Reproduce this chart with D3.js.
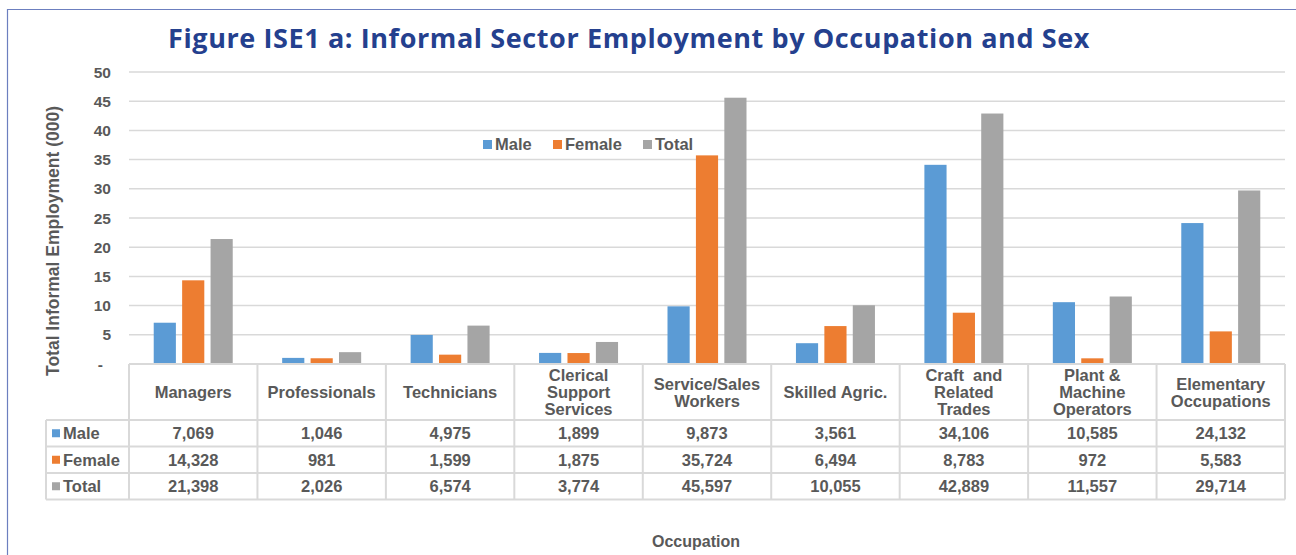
<!DOCTYPE html>
<html>
<head>
<meta charset="utf-8">
<script src="https://cdn.jsdelivr.net/npm/d3@7"></script>
<style>
  body { margin: 0; background: #fff; }
  svg text { font-family: "Liberation Sans", Arial, sans-serif; font-weight: bold; fill: #595959; white-space: pre; }
</style>
</head>
<body>
<script>
// data
var occupations = ["Managers", "Professionals", "Technicians", "Clerical Support Services",
  "Service/Sales Workers", "Skilled Agric.", "Craft  and Related Trades",
  "Plant & Machine Operators", "Elementary Occupations"];
// header labels broken into lines as in the table
var headerLines = [["Managers"], ["Professionals"], ["Technicians"], ["Clerical", "Support", "Services"],
  ["Service/Sales", "Workers"], ["Skilled Agric."], ["Craft  and", "Related", "Trades"],
  ["Plant &", "Machine", "Operators"], ["Elementary", "Occupations"]];
var seriesNames = ["Male", "Female", "Total"];
var male = [7069, 1046, 4975, 1899, 9873, 3561, 34106, 10585, 24132];
var female = [14328, 981, 1599, 1875, 35724, 6494, 8783, 972, 5583];
var total = [21398, 2026, 6574, 3774, 45597, 10055, 42889, 11557, 29714];
var yTicks = [0, 5, 10, 15, 20, 25, 30, 35, 40, 45, 50];

var width = 1296, height = 555;
var colors = d3.scaleOrdinal().domain(seriesNames).range(["#5B9BD5", "#ED7D31", "#A5A5A5"]);
var seriesValues = [male, female, total];

var svg = d3.select("body").append("svg")
  .attr("width", width)
  .attr("height", height);

// frame
svg.append("path")
  .attr("d", "M7.5," + height + "V9.5H" + width)
  .attr("fill", "none")
  .attr("stroke", "#6c7fbf")
  .attr("stroke-width", 1.2);

// title
svg.append("text")
  .attr("x", 629)
  .attr("y", 48)
  .attr("text-anchor", "middle")
  .style("font-family", "'Open Sans', sans-serif")
  .style("font-size", "27px")
  .style("font-weight", "bold")
  .style("letter-spacing", "0.6px")
  .style("fill", "#24408E")
  .text("Figure ISE1 a: Informal Sector Employment by Occupation and Sex");

// plot area
var plotLeft = 129, plotRight = 1285, plotTop = 72, plotBottom = 364;

var x = d3.scaleBand().domain(occupations).range([plotLeft, plotRight]);
var xInner = d3.scaleBand().domain(seriesNames).range([0, x.bandwidth()]).paddingInner(0.22).paddingOuter(0.87);
var y = d3.scaleLinear().domain([0, 50]).range([plotBottom, plotTop]);

// gridlines
svg.append("g").selectAll("line")
  .data(yTicks.slice(1))
  .enter().append("line")
  .attr("x1", plotLeft).attr("x2", plotRight)
  .attr("y1", function (d) { return y(d); })
  .attr("y2", function (d) { return y(d); })
  .attr("stroke", "#d9d9d9")
  .attr("stroke-width", 1.5);

// y tick labels
svg.append("g").selectAll("text")
  .data(yTicks)
  .enter().append("text")
  .attr("x", function (d) { return d === 0 ? 103 : 111; })
  .attr("y", function (d) { return y(d) + 5.5; })
  .attr("text-anchor", "end")
  .style("font-size", "15.5px")
  .text(function (d) { return d === 0 ? "-" : d; });

// y title
svg.append("text")
  .attr("transform", "translate(59,241) rotate(-90)")
  .attr("text-anchor", "middle")
  .style("font-size", "17.5px")
  .text("Total Informal Employment (000)");

// bars
var groups = svg.append("g").selectAll("g")
  .data(occupations)
  .enter().append("g")
  .attr("transform", function (d) { return "translate(" + x(d) + ",0)"; });

groups.selectAll("rect")
  .data(function (d, i) {
    return seriesNames.map(function (s, j) { return { key: s, value: seriesValues[j][i] / 1000 }; });
  })
  .enter().append("rect")
  .attr("x", function (d) { return xInner(d.key); })
  .attr("y", function (d) { return y(d.value); })
  .attr("width", xInner.bandwidth())
  .attr("height", function (d) { return plotBottom - y(d.value); })
  .attr("fill", function (d) { return colors(d.key); });

// legend
var legendX = [483, 553, 643];
var legend = svg.append("g").selectAll("g")
  .data(seriesNames)
  .enter().append("g")
  .attr("transform", function (d, i) { return "translate(" + legendX[i] + ",144)"; });
legend.append("rect")
  .attr("x", 0).attr("y", -4)
  .attr("width", 9).attr("height", 9)
  .attr("fill", colors);
legend.append("text")
  .attr("x", 12).attr("y", 6)
  .style("font-size", "16.5px")
  .text(function (d) { return d; });

// data table
var headerBottom = 420, rowH = 26.5, tableLeft = 46;
var tg = svg.append("g");
var lineColor = "#d9d9d9";

function hline(x1, x2, yy) {
  tg.append("line").attr("x1", x1).attr("x2", x2).attr("y1", yy).attr("y2", yy)
    .attr("stroke", lineColor).attr("stroke-width", 2);
}
function vline(xx, y1, y2) {
  tg.append("line").attr("x1", xx).attr("x2", xx).attr("y1", y1).attr("y2", y2)
    .attr("stroke", lineColor).attr("stroke-width", 2);
}

hline(plotLeft, plotRight, plotBottom);
hline(tableLeft, plotRight, headerBottom);
seriesNames.forEach(function (s, i) { hline(tableLeft, plotRight, headerBottom + rowH * (i + 1)); });
var tableBottom = headerBottom + rowH * 3;
vline(tableLeft, headerBottom, tableBottom);
occupations.forEach(function (o) { vline(x(o), plotBottom, tableBottom); });
vline(plotRight, plotBottom, tableBottom);

// header labels
occupations.forEach(function (o, i) {
  var lines = headerLines[i];
  var cx = x(o) + x.bandwidth() / 2;
  var midY = (plotBottom + headerBottom) / 2;
  var lh = 17;
  lines.forEach(function (t, k) {
    tg.append("text")
      .attr("x", cx)
      .attr("y", midY + (k - (lines.length - 1) / 2) * lh + 6)
      .attr("text-anchor", "middle")
      .style("font-size", "16.5px")
      .text(t);
  });
});

// row labels and values
seriesNames.forEach(function (s, j) {
  var rowY = headerBottom + rowH * j + rowH / 2 + 6;
  tg.append("rect")
    .attr("x", 52).attr("y", rowY - 10)
    .attr("width", 8).attr("height", 8)
    .attr("fill", colors(s));
  tg.append("text")
    .attr("x", 63).attr("y", rowY)
    .style("font-size", "16.5px")
    .text(s);
  occupations.forEach(function (o, i) {
    tg.append("text")
      .attr("x", x(o) + x.bandwidth() / 2)
      .attr("y", rowY)
      .attr("text-anchor", "middle")
      .style("font-size", "16.5px")
      .text(d3.format(",")(seriesValues[j][i]));
  });
});

// x title
svg.append("text")
  .attr("x", 696)
  .attr("y", 547)
  .attr("text-anchor", "middle")
  .style("font-size", "16px")
  .text("Occupation");
</script>
</body>
</html>
